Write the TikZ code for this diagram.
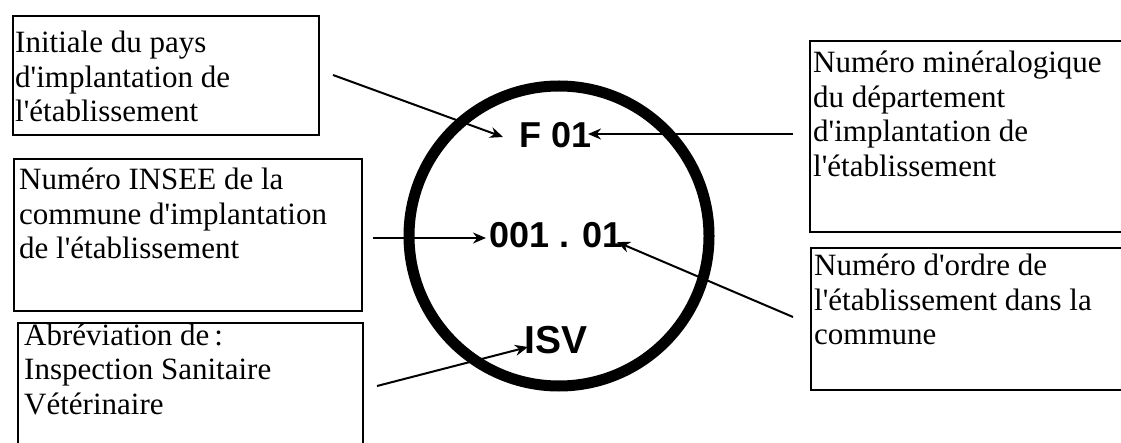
\documentclass[tikz,border=0pt]{standalone}
\usepackage{fontspec}
\setmainfont{Liberation Serif}
\newfontfamily\codefont{Liberation Sans}
\usetikzlibrary{arrows.meta}
\newcommand{\ap}{\textquotesingle}
\newcommand{\mylines}[1]{\parbox[t]{320pt}{\raggedright #1}}
\tikzset{
  boxframe/.style={draw=black, line width=2pt, inner sep=0pt, anchor=north west},
  boxtxt/.style={inner sep=0pt, anchor=base west, font=\fontsize{31}{34.5}\selectfont},
  code/.style={inner sep=0pt, anchor=base, font=\codefont\bfseries\fontsize{36}{40}\selectfont},
  pointer/.style={draw=black, line width=2pt, -{Stealth[length=13pt,width=11pt]}}
}
\begin{document}
\begin{tikzpicture}[x=1pt,y=-1pt]
\useasboundingbox (0,0) rectangle (1121,443);
\clip (0,0) rectangle (1121,443);
% boxes
\node[boxframe, minimum width=306pt, minimum height=119pt] (b1) at (12,15) {};
\node[boxframe, minimum width=348pt, minimum height=152pt] (b2) at (13,158) {};
\node[boxframe, minimum width=345pt, minimum height=140pt] (b3) at (17,322) {};
\node[boxframe, minimum width=330pt, minimum height=191pt] (r1) at (809,40) {};
\node[boxframe, minimum width=330pt, minimum height=142pt] (r2) at (810,247) {};
% texts
\node[boxtxt] (t1) at (15,53) {\mylines{Initiale du pays\\d\ap implantation de\\l\ap établissement}};
\node[boxtxt] (t2) at (19,190) {\mylines{Numéro INSEE de la\\commune d\ap implantation\\de l\ap établissement}};
\node[boxtxt] (t3) at (24,345) {\mylines{Abréviation de\,:\\Inspection Sanitaire\\Vétérinaire}};
\node[boxtxt] (t4) at (813,73) {\mylines{Numéro minéralogique\\du département\\d\ap implantation de\\l\ap établissement}};
\node[boxtxt] (t5) at (814,276) {\mylines{Numéro d\ap ordre de\\l\ap établissement dans la\\commune}};
% circle
\node[draw=black, line width=11pt, circle, minimum size=300pt, inner sep=0pt] (seal) at (559,236) {};
% codes
\node[code] (f01) at (556,148) {F 01};
\node[code] (num) at (556,248) {001 . 01};
\node[code, font=\codefont\bfseries\fontsize{39}{42}\selectfont] (isv) at (556,353) {ISV};
% connector ends
\coordinate (s1) at (333,75);
\coordinate (e1) at (503,137);
\coordinate (s2) at (793,134);
\coordinate (e2) at (588,134);
\coordinate (s3) at (373,238);
\coordinate (e3) at (486,238);
\coordinate (s4) at (793,317);
\coordinate (e4) at (617,242);
\coordinate (s5) at (377,386);
\coordinate (e5) at (528,347);
\draw[pointer] (s1) -- (e1);
\draw[pointer] (s2) -- (e2);
\draw[pointer] (s3) -- (e3);
\draw[pointer] (s4) -- (e4);
\draw[pointer] (s5) -- (e5);
\end{tikzpicture}
\end{document}
